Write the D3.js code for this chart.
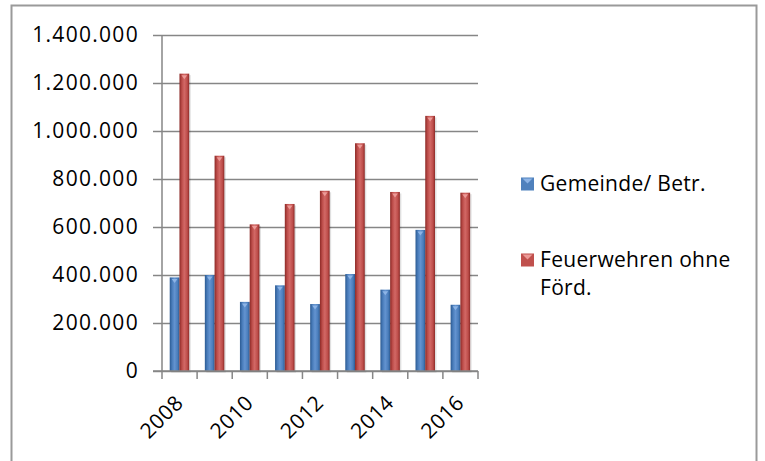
<!DOCTYPE html>
<html>
<head>
<meta charset="utf-8">
<script src="https://cdn.jsdelivr.net/npm/d3@7"></script>
<style>
	body { margin: 0; background: #fff; }
	text { font-family: "Open Sans", sans-serif; fill: #000; }
</style>
</head>
<body>
<div class="chart"></div>
<script>
var years = ["2008", "2009", "2010", "2011", "2012", "2013", "2014", "2015", "2016"];
var seriesNames = ["Gemeinde/ Betr.", "Feuerwehren ohne Förd."];
var gemeinde = [390000, 400000, 288000, 357000, 279000, 404000, 339000, 588000, 276000];
var feuerwehren = [1239000, 897000, 611000, 696000, 751000, 949000, 746000, 1063000, 743000];
var yTicks = [0, 200000, 400000, 600000, 800000, 1000000, 1200000, 1400000];

var W = 765, H = 461;
var margin = {left: 162, top: 35, right: 287, bottom: 90};
var width = W - margin.left - margin.right,
	height = H - margin.top - margin.bottom;

var de = d3.formatLocale({decimal: ",", thousands: ".", grouping: [3], currency: ["", " €"]});
var fmt = de.format(",d");

var svg = d3.select(".chart").append("svg")
	.attr("width", W)
	.attr("height", H);

// bar shading
var defs = svg.append("defs");
function grad(id, dark, mid, light) {
	var g = defs.append("linearGradient").attr("id", id)
		.attr("x1", "0%").attr("x2", "100%").attr("y1", "0%").attr("y2", "0%");
	g.append("stop").attr("offset", "0%").attr("stop-color", dark);
	g.append("stop").attr("offset", "25%").attr("stop-color", mid);
	g.append("stop").attr("offset", "50%").attr("stop-color", light);
	g.append("stop").attr("offset", "80%").attr("stop-color", mid);
	g.append("stop").attr("offset", "100%").attr("stop-color", dark);
}
grad("gBlue", "#2b5a92", "#4a7dbb", "#6393d0");
grad("gRed", "#8c2926", "#bd4d4a", "#d26865");
var fills = ["url(#gBlue)", "url(#gRed)"];
var tips = ["#8db4e6", "#ec9a97"];
var legendFill = ["#4f81bd", "#c0504d"];

// outer frame
svg.append("rect")
	.attr("x", 11.5).attr("y", 5.5)
	.attr("width", 745).attr("height", 460)
	.attr("fill", "none")
	.attr("stroke", "#9a9a9a")
	.attr("stroke-width", 2);

var g = svg.append("g")
	.attr("transform", "translate(" + margin.left + "," + margin.top + ")");

var x0 = d3.scaleBand().domain(years).range([0, width]).paddingInner(0).paddingOuter(0);
var bw = x0.bandwidth();
var x1 = d3.scaleBand().domain([0, 1]).range([bw * 0.22, bw * 0.775]);
var y = d3.scaleLinear().domain([0, 1400000]).range([height, 0]);

// gridlines
g.append("g")
	.attr("class", "grid")
	.call(d3.axisLeft(y).tickValues(yTicks).tickSize(-width).tickFormat(""))
	.call(function(s) {
		s.select(".domain").remove();
		s.selectAll("line").attr("stroke", "#868686").attr("stroke-width", 1.5);
	});

// y axis
g.append("g")
	.call(d3.axisLeft(y).tickValues(yTicks).tickSize(9).tickPadding(14).tickFormat(fmt))
	.call(function(s) {
		s.select(".domain").attr("stroke", "#868686").attr("stroke-width", 1.5)
			.attr("d", "M0," + height + "V0");
		s.selectAll("line").attr("stroke", "#868686").attr("stroke-width", 1.5);
		s.selectAll("text").style("font-size", "21px").style("letter-spacing", "1.3px")
			.attr("font-family", null);
	});

// bars
var data = years.map(function(yr, i) { return {year: yr, vals: [gemeinde[i], feuerwehren[i]]}; });

var cat = g.selectAll(".cat")
	.data(data)
	.enter().append("g")
	.attr("class", "cat")
	.attr("transform", function(d) { return "translate(" + x0(d.year) + ",0)"; });

var bar = cat.selectAll(".bar")
	.data(function(d) { return d.vals.map(function(v, k) { return {k: k, v: v}; }); })
	.enter().append("g")
	.attr("class", "bar");

bar.append("rect")
	.attr("x", function(d) { return x1(d.k) + 1.5; })
	.attr("y", function(d) { return y(d.v) + 1.5; })
	.attr("width", x1.bandwidth())
	.attr("height", function(d) { return height - y(d.v); })
	.attr("fill", "#000")
	.attr("opacity", 0.12);

bar.append("rect")
	.attr("x", function(d) { return x1(d.k); })
	.attr("y", function(d) { return y(d.v); })
	.attr("width", x1.bandwidth())
	.attr("height", function(d) { return height - y(d.v); })
	.attr("fill", function(d) { return fills[d.k]; });

bar.append("path")
	.attr("d", function(d) {
		var xa = x1(d.k) + 2, xb = x1(d.k) + x1.bandwidth() - 2, yt = y(d.v) + 1.5;
		return "M" + xa + "," + yt + "L" + xb + "," + yt + "L" + ((xa + xb) / 2) + "," + (yt + 4) + "Z";
	})
	.attr("fill", function(d) { return tips[d.k]; });

// x axis
g.append("g")
	.attr("transform", "translate(0," + height + ")")
	.call(d3.axisBottom(x0).tickSize(8).tickSizeOuter(0).tickFormat(function(d) {
		return (+d % 2 === 0) ? d : "";
	}))
	.call(function(s) {
		s.select(".domain").attr("stroke", "#868686").attr("stroke-width", 1.5)
			.attr("d", "M-9,0H" + width);
		s.selectAll(".tick line").attr("stroke", "#868686").attr("stroke-width", 1.5)
			.attr("x1", -bw / 2).attr("x2", -bw / 2);
		s.selectAll(".tick text")
			.attr("font-family", null)
			.style("font-size", "21px")
			.style("letter-spacing", "0.6px")
			.attr("text-anchor", "end")
			.attr("dy", null)
			.attr("y", 0)
			.attr("transform", "translate(5,33)rotate(-45)");
	})
	.append("line")
	.attr("x1", width).attr("x2", width)
	.attr("y1", 0).attr("y2", 8)
	.attr("stroke", "#868686").attr("stroke-width", 1.5);

// legend
var legend = svg.append("g").attr("transform", "translate(521,0)");
var items = [{y: 184, lines: ["Gemeinde/ Betr."]}, {y: 260, lines: ["Feuerwehren ohne", "Förd."]}];
items.forEach(function(it, k) {
	legend.append("rect")
		.attr("x", 0).attr("y", it.y - 6.5)
		.attr("width", 13).attr("height", 13)
		.attr("fill", legendFill[k]);
	legend.append("path")
		.attr("d", "M1.5," + (it.y - 5.5) + "L11.5," + (it.y - 5.5) + "L6.5," + (it.y - 0.5) + "Z")
		.attr("fill", tips[k]);
	var t = legend.append("text")
		.attr("x", 19).attr("y", it.y)
		.style("font-size", "21px")
		.style("letter-spacing", "0.3px");
	it.lines.forEach(function(l, j) {
		t.append("tspan").attr("x", 19).attr("dy", j === 0 ? "0.35em" : "28px").text(l);
	});
});
</script>
</body>
</html>
